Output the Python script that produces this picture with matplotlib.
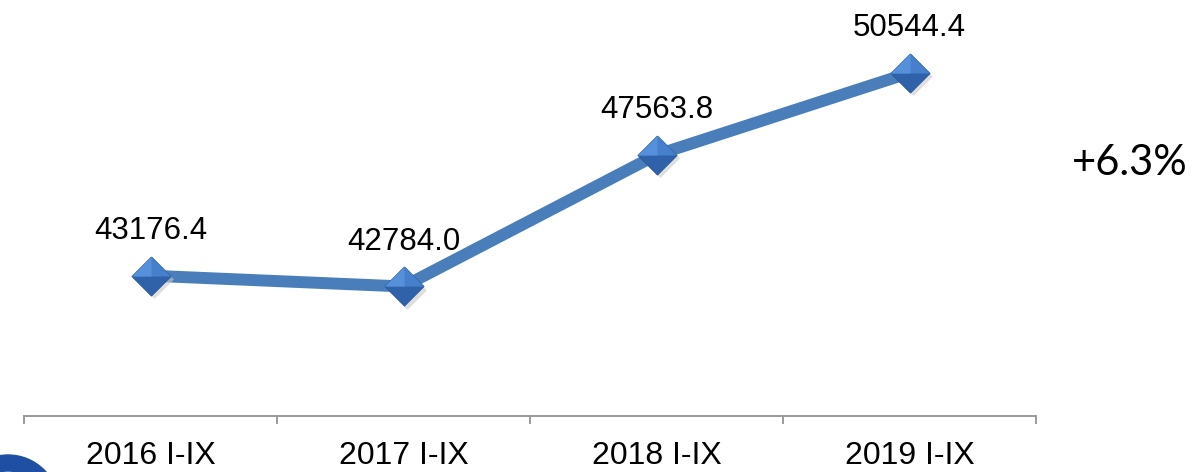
import matplotlib.pyplot as plt
from matplotlib.patches import Wedge
from matplotlib.ticker import FixedLocator, NullFormatter, FixedFormatter

categories = ["2016 I-IX", "2017 I-IX", "2018 I-IX", "2019 I-IX"]
values = [43176.4, 42784.0, 47563.8, 50544.4]
value_labels = ["43176.4", "42784.0", "47563.8", "50544.4"]
growth_text = "+6.3%"

W, H = 1201, 472
fig = plt.figure(figsize=(W / 100, H / 100), dpi=100)

# logo fragment in the lower-left corner (pixel coords overlay)
bg = fig.add_axes([0, 0, 1, 1], zorder=0)
bg.set_xlim(0, W)
bg.set_ylim(H, 0)
bg.axis("off")
bg.add_patch(Wedge((8, 506), 51, 0, 360, width=16, color="#1f4fa3"))

ax = fig.add_axes([24 / W, (H - 416) / H, (1036 - 24) / W, 416 / H], zorder=1)
ax.patch.set_alpha(0)
x = [i + 0.5 for i in range(len(values))]

ms = 28
ax.plot(x, values, color="#4a7ebb", lw=8.6, solid_capstyle="butt", zorder=2)
diamond = [(0, 1), (1, 0), (0, -1), (-1, 0), (0, 1)]
upper = [(-1, 0), (0, 1), (1, 0), (-1, 0)]
ax.plot([v + 0.012 for v in x], [v - 110 for v in values], ls="none", marker=diamond,
        ms=ms, mfc="#c8c8c8", mec="none", alpha=0.6, zorder=2)
ax.plot(x, values, ls="none", marker=diamond, ms=ms, mfc="#2f62a8",
        mec="#2a5a9c", mew=0.8, zorder=3)
ax.plot(x, values, ls="none", marker=upper, ms=ms, mfc="#4680cc",
        mec="none", zorder=4)
ax.plot(x, values, ls="none", marker=[(-1, 0), (0, 1), (0, 0), (-1, 0)], ms=ms,
        mfc="#5790da", mec="none", zorder=5)

for xi, v, lab in zip(x, values, value_labels):
    ax.annotate(lab, (xi, v), xytext=(0, 32), textcoords="offset points",
                ha="center", va="center", fontsize=22.5,
                family="Liberation Sans", color="#000000")

ax.set_xlim(0, 4)
ax.set_ylim(38080, 53190)
ax.xaxis.set_major_locator(FixedLocator([0, 1, 2, 3, 4]))
ax.xaxis.set_major_formatter(NullFormatter())
ax.xaxis.set_minor_locator(FixedLocator(x))
ax.xaxis.set_minor_formatter(FixedFormatter(categories))
ax.tick_params(axis="x", which="major", length=6, width=1.4, color="#9a9a9a")
ax.tick_params(axis="x", which="minor", length=0, pad=18, labelsize=23)
for t in ax.xaxis.get_minorticklabels():
    t.set_family("Liberation Sans")
ax.set_yticks([])
for s in ["top", "left", "right"]:
    ax.spines[s].set_visible(False)
ax.spines["bottom"].set_color("#9a9a9a")
ax.spines["bottom"].set_linewidth(1.4)

fig.text(1130 / W, 1 - 163 / H, growth_text, ha="center", va="center",
         fontsize=30, family="Lato", color="#000000")

fig.savefig("out.png", dpi=100)
